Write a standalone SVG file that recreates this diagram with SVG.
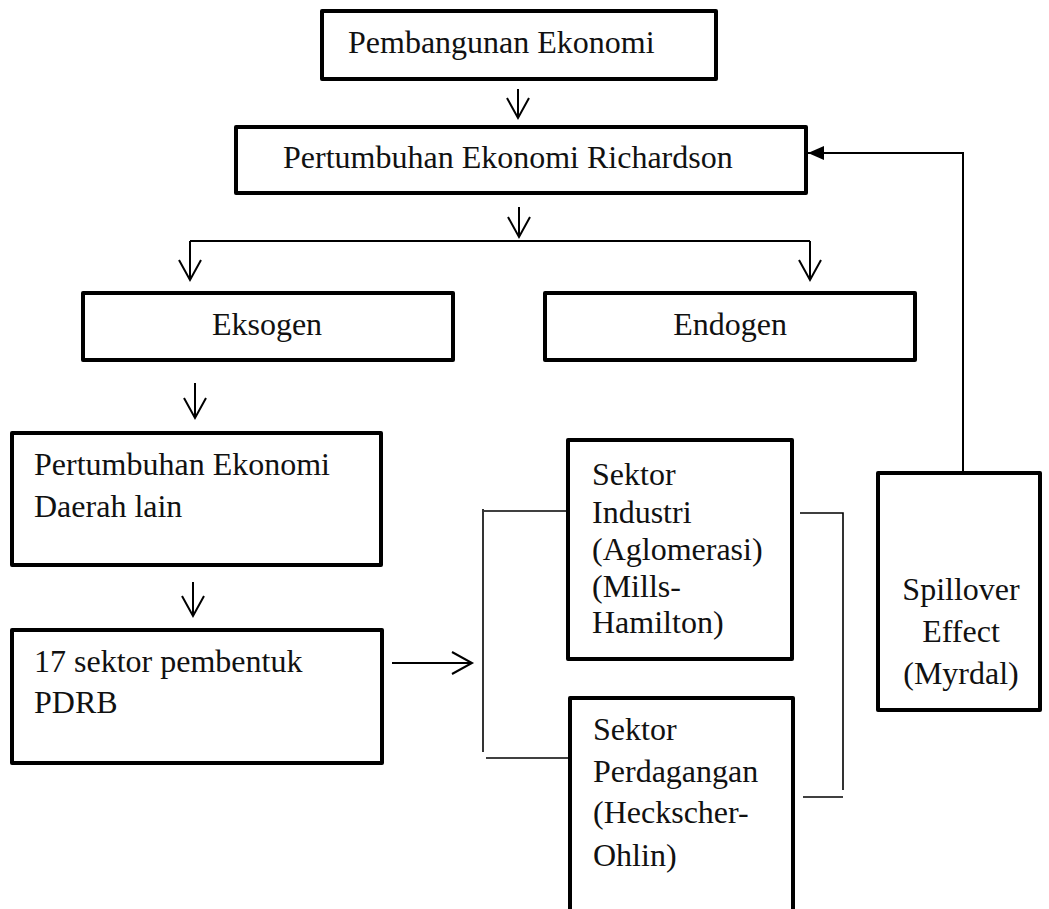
<svg xmlns="http://www.w3.org/2000/svg" width="1049" height="909" viewBox="0 0 1049 909">
<style>
.box{fill:#fff;stroke:#000;stroke-width:4;stroke-linejoin:round}
.t{font-family:"Liberation Serif","Times New Roman",serif;font-size:32px;fill:#111}
.c{fill:none;stroke:#000;stroke-width:2}
.b{fill:none;stroke:#000;stroke-width:1.6}
</style>
<defs>
<marker id="v" markerUnits="userSpaceOnUse" markerWidth="30" markerHeight="30" viewBox="-25 -15 30 30" refX="0" refY="0" orient="auto" overflow="visible">
<path d="M-20,-11 L0,0 L-20,11" fill="none" stroke="#000" stroke-width="2"/>
</marker>
<marker id="f" markerUnits="userSpaceOnUse" markerWidth="20" markerHeight="20" viewBox="-18 -9 20 18" refX="0" refY="0" orient="auto" overflow="visible">
<path d="M-16,-7 L0,0 L-16,7 Z" fill="#000"/>
</marker>
</defs>
<rect width="1049" height="909" fill="#fff"/>
<g id="connectors">
<line class="c" x1="518" y1="89" x2="518" y2="118" marker-end="url(#v)"/>
<line class="c" x1="519" y1="207" x2="519" y2="237" marker-end="url(#v)"/>
<line class="c" x1="190" y1="241" x2="810" y2="241"/>
<line class="c" x1="190" y1="241" x2="190" y2="280" marker-end="url(#v)"/>
<line class="c" x1="810" y1="241" x2="810" y2="280" marker-end="url(#v)"/>
<line class="c" x1="195" y1="383" x2="195" y2="418" marker-end="url(#v)"/>
<line class="c" x1="193" y1="582" x2="193" y2="616" marker-end="url(#v)"/>
<line class="c" x1="392" y1="663" x2="472" y2="663" marker-end="url(#v)"/>
<polyline class="b" points="567,511 484,511"/>
<line class="b" x1="483" y1="509" x2="483" y2="752"/>
<polyline class="b" points="486,758 568,758"/>
<polyline class="b" points="800,513 843,513 843,790"/>
<line class="b" x1="803" y1="797" x2="843" y2="797"/>
<polyline class="c" points="963,473 963,153 808,153" marker-end="url(#f)"/>
</g>
<g id="n1"><rect class="box" x="322" y="11" width="394" height="68"/><text class="t" x="348" y="53">Pembangunan Ekonomi</text></g>
<g id="n2"><rect class="box" x="236" y="127" width="570" height="66"/><text class="t" x="283" y="168">Pertumbuhan Ekonomi Richardson</text></g>
<g id="n3"><rect class="box" x="83" y="293" width="370" height="67"/><text class="t" x="267" y="335" text-anchor="middle">Eksogen</text></g>
<g id="n4"><rect class="box" x="545" y="293" width="370" height="67"/><text class="t" x="730" y="335" text-anchor="middle">Endogen</text></g>
<g id="n5"><rect class="box" x="12" y="433" width="369" height="132"/><text class="t" x="34" y="475">Pertumbuhan Ekonomi</text><text class="t" x="34" y="517">Daerah lain</text></g>
<g id="n6"><rect class="box" x="12" y="630" width="370" height="133"/><text class="t" x="34" y="672">17 sektor pembentuk</text><text class="t" x="34" y="713">PDRB</text></g>
<g id="n7"><rect class="box" x="568" y="440" width="224" height="219"/><text class="t" x="592" y="485">Sektor</text><text class="t" x="592" y="523">Industri</text><text class="t" x="592" y="560">(Aglomerasi)</text><text class="t" x="592" y="597">(Mills-</text><text class="t" x="592" y="633">Hamilton)</text></g>
<g id="n8"><rect class="box" x="570" y="698" width="223" height="230"/><text class="t" x="593" y="740">Sektor</text><text class="t" x="593" y="782">Perdagangan</text><text class="t" x="593" y="823">(Heckscher-</text><text class="t" x="593" y="866">Ohlin)</text></g>
<g id="n9"><rect class="box" x="878" y="473" width="162" height="237"/><text class="t" x="961" y="600" text-anchor="middle">Spillover</text><text class="t" x="961" y="642" text-anchor="middle">Effect</text><text class="t" x="961" y="684" text-anchor="middle">(Myrdal)</text></g>
</svg>
